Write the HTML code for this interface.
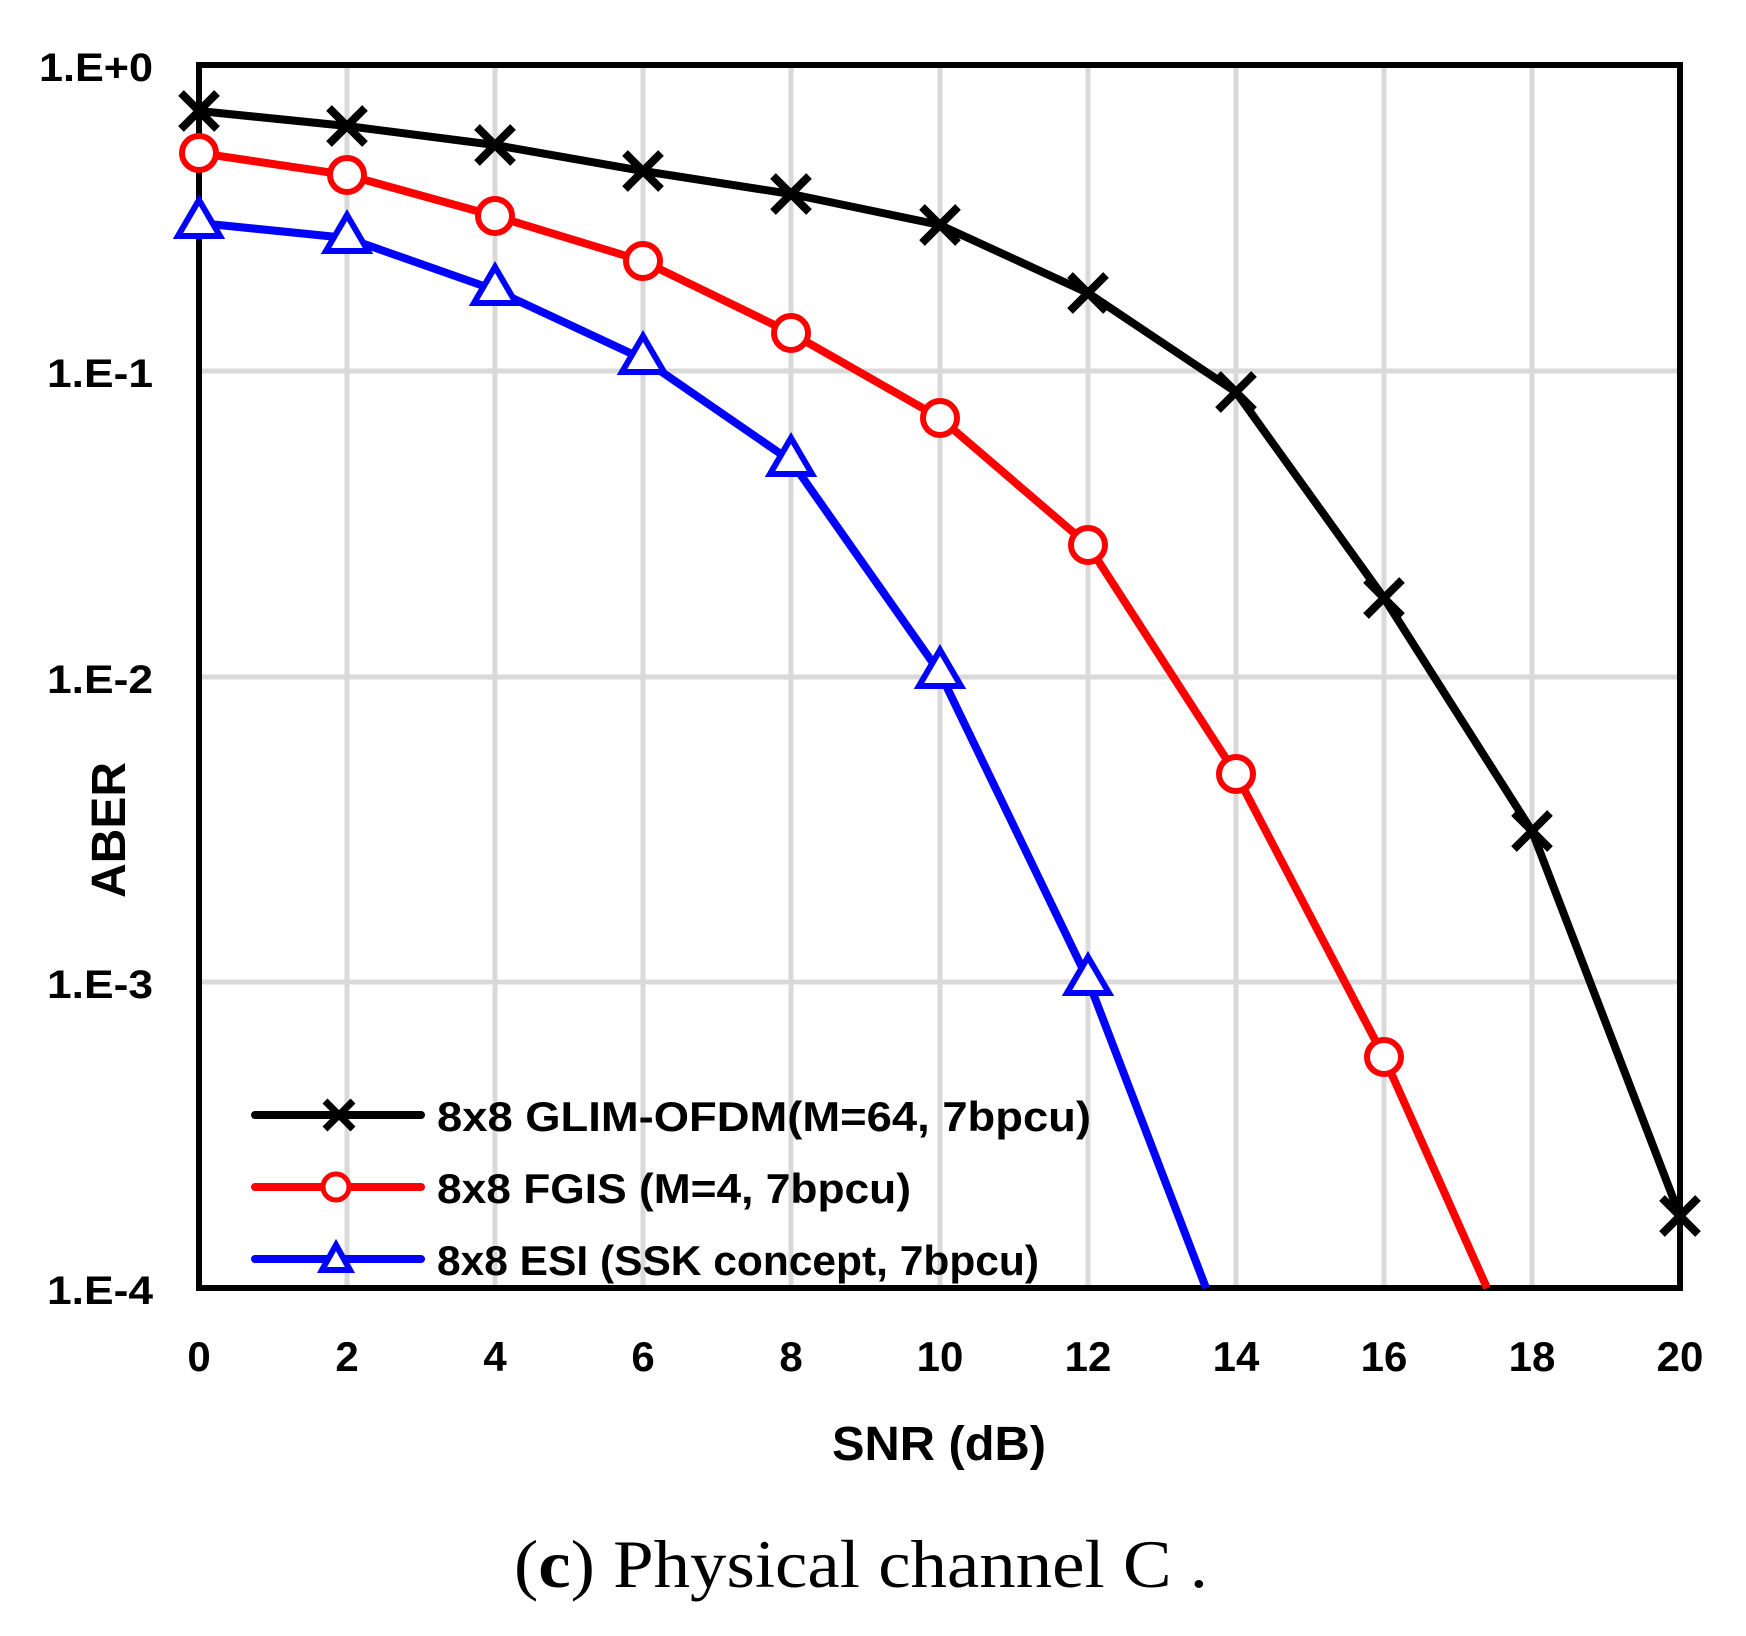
<!DOCTYPE html>
<html><head><meta charset="utf-8"><style>html,body{margin:0;padding:0;background:#fff}</style></head>
<body>
<svg width="1746" height="1631" viewBox="0 0 1746 1631" xmlns="http://www.w3.org/2000/svg">
<rect width="1746" height="1631" fill="#fff"/>
<g stroke="#d9d9d9" stroke-width="5">
<line x1="347" y1="65" x2="347" y2="1288"/><line x1="495" y1="65" x2="495" y2="1288"/><line x1="643" y1="65" x2="643" y2="1288"/><line x1="791" y1="65" x2="791" y2="1288"/><line x1="940" y1="65" x2="940" y2="1288"/><line x1="1088" y1="65" x2="1088" y2="1288"/><line x1="1236" y1="65" x2="1236" y2="1288"/><line x1="1384" y1="65" x2="1384" y2="1288"/><line x1="1532" y1="65" x2="1532" y2="1288"/>
<line x1="199" y1="371" x2="1680" y2="371"/><line x1="199" y1="677" x2="1680" y2="677"/><line x1="199" y1="982" x2="1680" y2="982"/>
</g>
<rect x="199" y="65" width="1481" height="1223" fill="none" stroke="#000" stroke-width="6"/>
<g font-family="Liberation Sans, sans-serif" font-weight="bold" font-size="40" fill="#000">
<g text-anchor="end">
<text x="153" y="81" textLength="114" lengthAdjust="spacingAndGlyphs">1.E+0</text><text x="153" y="387" textLength="106" lengthAdjust="spacingAndGlyphs">1.E-1</text><text x="153" y="693" textLength="106" lengthAdjust="spacingAndGlyphs">1.E-2</text><text x="153" y="998" textLength="106" lengthAdjust="spacingAndGlyphs">1.E-3</text><text x="153" y="1304" textLength="106" lengthAdjust="spacingAndGlyphs">1.E-4</text>
</g>
<g text-anchor="middle" font-size="42">
<text x="199" y="1371">0</text><text x="347" y="1371">2</text><text x="495" y="1371">4</text><text x="643" y="1371">6</text><text x="791" y="1371">8</text><text x="940" y="1371">10</text><text x="1088" y="1371">12</text><text x="1236" y="1371">14</text><text x="1384" y="1371">16</text><text x="1532" y="1371">18</text><text x="1680" y="1371">20</text>
<text x="939" y="1460" font-size="48" textLength="214" lengthAdjust="spacingAndGlyphs">SNR (dB)</text>
<text x="0" y="0" font-size="48" transform="translate(125,830) rotate(-90)">ABER</text>
</g>
</g>
<g fill="none" stroke-width="8" stroke-linejoin="round">
<polyline stroke="#000" points="199,111 347,126 495,145 643,171 791,194 940,225 1088,293 1236,392 1384,598 1532,831 1680,1216" />
<polyline stroke="#f00" points="199,153 347,175 495,216 643,261 791,333 940,418 1088,545 1236,774 1384,1057 1487,1288"/>
<polyline stroke="#00f" points="199,223 347,238 495,290 643,359 791,461 940,673 1088,980 1206,1288"/>
</g>
<g stroke="#000" stroke-width="8">
<path d="M181,93l36,36M181,129l36,-36 M329,108l36,36M329,144l36,-36 M477,127l36,36M477,163l36,-36 M625,153l36,36M625,189l36,-36 M773,176l36,36M773,212l36,-36 M922,207l36,36M922,243l36,-36 M1070,275l36,36M1070,311l36,-36 M1218,374l36,36M1218,410l36,-36 M1366,580l36,36M1366,616l36,-36 M1514,813l36,36M1514,849l36,-36 M1662,1198l36,36M1662,1234l36,-36"/>
</g>
<g stroke="#f00" stroke-width="6" fill="#fff">
<circle cx="199" cy="153" r="17"/><circle cx="347" cy="175" r="17"/><circle cx="495" cy="216" r="17"/><circle cx="643" cy="261" r="17"/><circle cx="791" cy="333" r="17"/><circle cx="940" cy="418" r="17"/><circle cx="1088" cy="545" r="17"/><circle cx="1236" cy="774" r="17"/><circle cx="1384" cy="1057" r="17"/>
</g>
<g stroke="#00f" stroke-width="6" fill="#fff">
<path d="M199,200l21,36h-42z M347,215l21,36h-42z M495,267l21,36h-42z M643,336l21,36h-42z M791,438l21,36h-42z M940,650l21,36h-42z M1088,957l21,36h-42z"/>
</g>
<g stroke-width="8" stroke-linecap="round">
<line x1="255" y1="1115" x2="421" y2="1115" stroke="#000"/>
<line x1="255" y1="1187" x2="421" y2="1187" stroke="#f00"/>
<line x1="255" y1="1259" x2="421" y2="1259" stroke="#00f"/>
</g>
<path d="M325,1101l28,28M325,1129l28,-28" stroke="#000" stroke-width="7"/>
<circle cx="336" cy="1187" r="13" stroke="#f00" stroke-width="5" fill="#fff"/>
<path d="M336,1245l14,25h-28z" stroke="#00f" stroke-width="6" fill="#fff"/>
<g font-family="Liberation Sans, sans-serif" font-weight="bold" font-size="42" fill="#000">
<text x="437" y="1131" textLength="654" lengthAdjust="spacingAndGlyphs">8x8 GLIM-OFDM(M=64, 7bpcu)</text>
<text x="437" y="1203" textLength="474" lengthAdjust="spacingAndGlyphs">8x8 FGIS (M=4, 7bpcu)</text>
<text x="437" y="1275" textLength="602" lengthAdjust="spacingAndGlyphs">8x8 ESI (SSK concept, 7bpcu)</text>
</g>
<text x="514" y="1587" textLength="694" lengthAdjust="spacingAndGlyphs" font-family="Liberation Serif, serif" font-size="68" fill="#000">(<tspan font-weight="bold">c</tspan>) Physical channel C .</text>
</svg>
</body></html>
